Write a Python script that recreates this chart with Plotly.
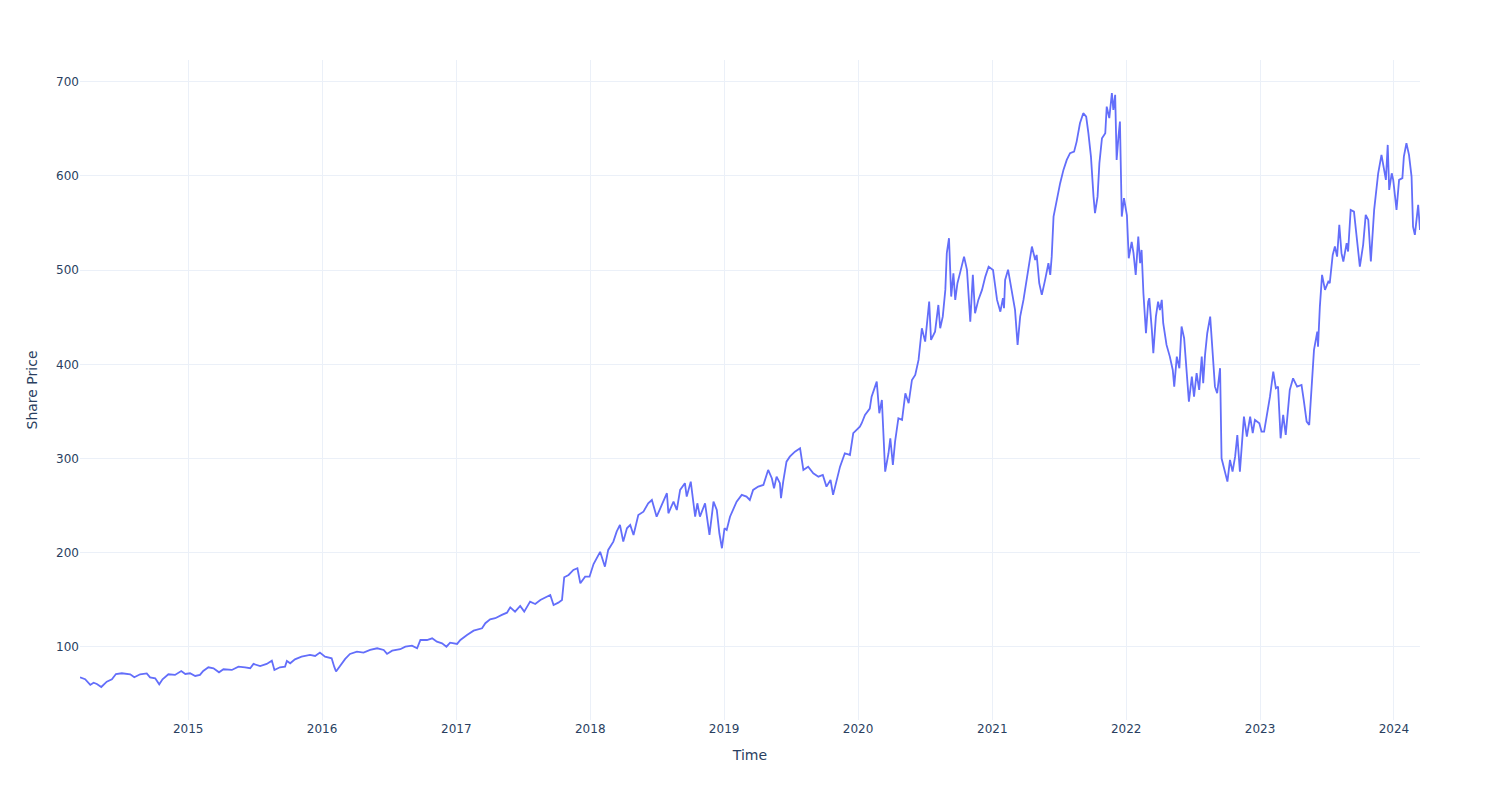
import plotly.graph_objects as go

# Share price, one pair of lists per calendar year
dates_2014 = ["2014-03-12", "2014-03-26", "2014-04-09", "2014-04-18", "2014-04-27", "2014-05-09",
              "2014-05-24", "2014-06-07", "2014-06-18", "2014-07-04", "2014-07-27", "2014-08-07",
              "2014-08-23", "2014-09-10", "2014-09-19", "2014-10-03", "2014-10-14", "2014-10-23",
              "2014-11-08", "2014-11-26", "2014-12-13", "2014-12-24"]
prices_2014 = [67.8, 65.7, 59.7, 62.0, 60.7, 57.5,
               63.2, 65.7, 71.3, 72.1, 71.0, 67.8,
               71.0, 72.0, 67.8, 66.8, 60.4, 65.7,
               71.0, 70.3, 74.5, 71.3]

dates_2015 = ["2015-01-06", "2015-01-20", "2015-02-02", "2015-02-11", "2015-02-25", "2015-03-11",
              "2015-03-26", "2015-04-07", "2015-04-30", "2015-05-18", "2015-06-05", "2015-06-19",
              "2015-06-28", "2015-07-16", "2015-08-03", "2015-08-17", "2015-08-24", "2015-09-08",
              "2015-09-22", "2015-09-27", "2015-10-06", "2015-10-19", "2015-11-06", "2015-11-29",
              "2015-12-13", "2015-12-26"]
prices_2015 = [72.1, 69.2, 70.3, 74.5, 78.4, 77.4,
               73.1, 76.3, 75.6, 79.1, 78.4, 77.4,
               82.0, 79.8, 82.0, 85.5, 75.6, 78.4,
               79.1, 85.1, 82.7, 86.9, 89.7, 91.5,
               90.4, 94.0]

dates_2016 = ["2016-01-09", "2016-01-27", "2016-02-03", "2016-02-08", "2016-03-04", "2016-03-17",
              "2016-04-05", "2016-04-23", "2016-05-11", "2016-05-30", "2016-06-17", "2016-06-26",
              "2016-07-10", "2016-08-01", "2016-08-15", "2016-09-02", "2016-09-16", "2016-09-25",
              "2016-10-13", "2016-10-27", "2016-11-09", "2016-11-23", "2016-12-05", "2016-12-15"]
prices_2016 = [89.7, 88.0, 79.1, 74.0, 87.3, 92.6,
               95.0, 94.0, 96.8, 98.6, 96.8, 92.6,
               96.1, 97.6, 100.3, 101.4, 98.6, 107.4,
               107.4, 109.2, 105.6, 103.9, 100.3, 104.6]

dates_2017 = ["2017-01-03", "2017-01-12", "2017-01-30", "2017-02-17", "2017-03-12", "2017-03-21",
              "2017-04-03", "2017-04-17", "2017-05-05", "2017-05-19", "2017-05-28", "2017-06-10",
              "2017-06-24", "2017-07-05", "2017-07-21", "2017-08-04", "2017-08-18", "2017-09-05",
              "2017-09-14", "2017-09-23", "2017-10-06", "2017-10-16", "2017-10-22", "2017-11-03",
              "2017-11-16", "2017-11-27", "2017-12-05", "2017-12-18", "2017-12-30"]
prices_2017 = [103.2, 107.4, 112.7, 117.3, 119.8, 125.2,
               129.4, 130.5, 134.0, 136.4, 142.1, 137.5,
               143.5, 137.5, 148.1, 145.6, 149.9, 153.4,
               155.2, 144.6, 147.0, 149.9, 174.0, 176.4,
               181.7, 183.5, 167.6, 174.6, 174.6]

dates_2018 = ["2018-01-10", "2018-01-28", "2018-02-10", "2018-02-19", "2018-03-05", "2018-03-14",
              "2018-03-23", "2018-04-01", "2018-04-11", "2018-04-20", "2018-04-29", "2018-05-12",
              "2018-05-26", "2018-06-08", "2018-06-18", "2018-07-01", "2018-07-15", "2018-07-29",
              "2018-08-02", "2018-08-16", "2018-08-25", "2018-09-03", "2018-09-16", "2018-09-21",
              "2018-10-02", "2018-10-14", "2018-10-20", "2018-10-27", "2018-11-10", "2018-11-22",
              "2018-12-03", "2018-12-12", "2018-12-19", "2018-12-26"]
prices_2018 = [188.0, 201.0, 185.2, 203.0, 211.8, 222.4,
               229.5, 211.8, 226.0, 229.5, 218.9, 240.1,
               243.6, 252.5, 256.0, 238.3, 250.7, 263.2,
               241.9, 254.2, 245.4, 266.7, 273.8, 259.6,
               275.5, 238.3, 252.5, 238.3, 252.5, 218.9,
               254.2, 245.4, 220.7, 204.8]

dates_2019 = ["2019-01-02", "2019-01-08", "2019-01-17", "2019-01-26", "2019-02-04", "2019-02-18",
              "2019-03-03", "2019-03-12", "2019-03-21", "2019-04-04", "2019-04-18", "2019-05-01",
              "2019-05-11", "2019-05-17", "2019-05-24", "2019-06-02", "2019-06-05", "2019-06-11",
              "2019-06-20", "2019-06-29", "2019-07-13", "2019-07-27", "2019-08-05", "2019-08-18",
              "2019-09-01", "2019-09-15", "2019-09-27", "2019-10-07", "2019-10-18", "2019-10-25",
              "2019-11-04", "2019-11-13", "2019-11-26", "2019-12-10", "2019-12-19"]
prices_2019 = [226.0, 224.2, 238.3, 245.4, 254.2, 261.4,
               259.6, 256.0, 266.7, 270.2, 272.0, 287.9,
               279.1, 268.5, 280.8, 273.8, 257.9, 275.5,
               296.7, 302.0, 307.3, 310.9, 287.9, 291.4,
               284.4, 280.8, 282.6, 270.2, 277.3, 261.4,
               277.3, 291.4, 305.6, 303.8, 326.9]

dates_2020 = ["2020-01-01", "2020-01-06", "2020-01-11", "2020-01-20", "2020-02-02", "2020-02-07",
              "2020-02-21", "2020-02-28", "2020-03-06", "2020-03-11", "2020-03-15", "2020-03-24",
              "2020-03-29", "2020-04-05", "2020-04-11", "2020-04-20", "2020-04-30", "2020-05-09",
              "2020-05-18", "2020-05-27", "2020-06-05", "2020-06-14", "2020-06-23", "2020-07-02",
              "2020-07-13", "2020-07-18", "2020-07-29", "2020-08-07", "2020-08-12", "2020-08-19",
              "2020-08-26", "2020-08-30", "2020-09-05", "2020-09-11", "2020-09-17", "2020-09-22",
              "2020-09-28", "2020-10-06", "2020-10-16", "2020-10-24", "2020-11-02", "2020-11-09",
              "2020-11-15", "2020-11-24", "2020-12-04", "2020-12-13", "2020-12-22"]
prices_2020 = [332.2, 333.9, 337.5, 346.3, 353.0, 365.7,
               381.6, 348.1, 362.2, 326.9, 286.1, 305.6,
               321.5, 293.2, 317.9, 342.8, 341.0, 369.3,
               358.7, 383.4, 388.7, 404.7, 438.3, 424.1,
               466.6, 425.9, 434.7, 463.0, 438.3, 450.6,
               479.0, 518.0, 533.9, 471.9, 496.7, 468.4,
               486.1, 498.4, 514.3, 500.2, 445.3, 494.9,
               454.2, 468.4, 479.0, 493.1, 503.7]

dates_2021 = ["2021-01-03", "2021-01-14", "2021-01-23", "2021-01-30", "2021-02-02", "2021-02-05",
              "2021-02-13", "2021-02-26", "2021-03-04", "2021-03-11", "2021-03-18", "2021-03-27",
              "2021-04-05", "2021-04-19", "2021-04-28", "2021-05-02", "2021-05-09", "2021-05-16",
              "2021-05-25", "2021-06-03", "2021-06-08", "2021-06-12", "2021-06-17", "2021-06-26",
              "2021-07-05", "2021-07-14", "2021-07-23", "2021-08-01", "2021-08-12", "2021-08-19",
              "2021-08-28", "2021-09-06", "2021-09-14", "2021-09-20", "2021-09-27", "2021-10-04",
              "2021-10-08", "2021-10-15", "2021-10-20", "2021-10-27", "2021-11-05", "2021-11-09",
              "2021-11-16", "2021-11-23", "2021-11-27", "2021-12-02", "2021-12-06", "2021-12-11",
              "2021-12-15", "2021-12-20", "2021-12-26"]
prices_2021 = [500.2, 468.4, 455.9, 470.2, 459.6, 489.6,
               500.5, 471.9, 457.7, 420.6, 450.6, 468.4,
               489.6, 525.0, 510.8, 516.1, 486.1, 473.7,
               489.6, 507.3, 494.9, 514.3, 556.8, 576.3,
               592.3, 606.4, 617.0, 624.1, 625.8, 636.4,
               655.9, 666.6, 662.9, 645.3, 620.5, 578.0,
               560.4, 578.0, 613.5, 640.0, 645.3, 673.6,
               661.3, 688.0, 670.1, 686.0, 617.0, 641.7,
               657.6, 556.8, 576.3]

dates_2022 = ["2022-01-03", "2022-01-08", "2022-01-16", "2022-01-21", "2022-01-27", "2022-02-03",
              "2022-02-08", "2022-02-12", "2022-02-17", "2022-02-24", "2022-03-02", "2022-03-05",
              "2022-03-12", "2022-03-16", "2022-03-23", "2022-03-29", "2022-04-03", "2022-04-08",
              "2022-04-12", "2022-04-21", "2022-04-30", "2022-05-08", "2022-05-12", "2022-05-19",
              "2022-05-26", "2022-06-01", "2022-06-08", "2022-06-15", "2022-06-21", "2022-06-29",
              "2022-07-05", "2022-07-12", "2022-07-19", "2022-07-26", "2022-07-30", "2022-08-04",
              "2022-08-10", "2022-08-18", "2022-08-25", "2022-08-31", "2022-09-06", "2022-09-14",
              "2022-09-18", "2022-09-27", "2022-10-04", "2022-10-11", "2022-10-18", "2022-10-25",
              "2022-10-31", "2022-11-07", "2022-11-15", "2022-11-18", "2022-11-26", "2022-12-05",
              "2022-12-12", "2022-12-18", "2022-12-30"]
prices_2022 = [558.0, 512.6, 530.0, 518.0, 494.9, 535.6,
               507.3, 521.4, 475.5, 433.0, 466.6, 470.2,
               436.5, 411.8, 450.6, 466.6, 457.7, 468.4,
               443.6, 420.6, 408.2, 394.0, 376.3, 408.2,
               395.9, 440.1, 427.7, 387.0, 360.4, 387.0,
               365.7, 390.6, 372.8, 408.2, 379.9, 410.0,
               433.0, 450.6, 411.8, 376.3, 369.3, 395.9,
               300.3, 284.4, 275.5, 298.5, 286.1, 302.0,
               325.0, 286.1, 333.9, 344.5, 323.2, 344.5,
               326.9, 341.0, 337.5]

dates_2023 = ["2023-01-05", "2023-01-12", "2023-01-19", "2023-01-28", "2023-02-06", "2023-02-13",
              "2023-02-19", "2023-02-26", "2023-03-05", "2023-03-12", "2023-03-23", "2023-04-01",
              "2023-04-12", "2023-04-24", "2023-04-30", "2023-05-08", "2023-05-15", "2023-05-21",
              "2023-05-28", "2023-06-06", "2023-06-08", "2023-06-13", "2023-06-19", "2023-06-27",
              "2023-07-06", "2023-07-10", "2023-07-18", "2023-07-24", "2023-07-30", "2023-08-05",
              "2023-08-11", "2023-08-16", "2023-08-25", "2023-08-29", "2023-09-05", "2023-09-14",
              "2023-09-21", "2023-09-30", "2023-10-09", "2023-10-16", "2023-10-23", "2023-10-30",
              "2023-11-08", "2023-11-13", "2023-11-19", "2023-11-28", "2023-12-05", "2023-12-10",
              "2023-12-15", "2023-12-19", "2023-12-26", "2023-12-30"]
prices_2023 = [328.6, 328.6, 343.6, 365.7, 392.2, 374.6,
               376.3, 321.5, 346.3, 325.0, 372.8, 385.2,
               376.3, 378.1, 362.2, 339.2, 335.7, 369.3,
               415.3, 434.7, 418.8, 461.3, 494.9, 479.0,
               487.8, 486.1, 516.1, 525.0, 514.3, 548.0,
               518.0, 509.1, 528.6, 519.7, 563.9, 562.1,
               539.2, 503.7, 526.8, 558.6, 553.3, 509.1,
               563.9, 585.1, 602.8, 622.3, 606.4, 595.8,
               632.9, 585.1, 602.8, 595.8]

dates_2024 = ["2024-01-08", "2024-01-15", "2024-01-24", "2024-01-28", "2024-02-04", "2024-02-11",
              "2024-02-18", "2024-02-22", "2024-02-27", "2024-03-03", "2024-03-07", "2024-03-12"]
prices_2024 = [563.9, 595.8, 597.6, 620.5, 634.7, 622.3,
               599.3, 546.2, 537.4, 556.8, 569.2, 542.7]

dates = (dates_2014 + dates_2015 + dates_2016 + dates_2017 + dates_2018 + dates_2019
         + dates_2020 + dates_2021 + dates_2022 + dates_2023 + dates_2024)
prices = (prices_2014 + prices_2015 + prices_2016 + prices_2017 + prices_2018 + prices_2019
          + prices_2020 + prices_2021 + prices_2022 + prices_2023 + prices_2024)

fig = go.Figure()
fig.add_trace(
    go.Scatter(x=dates, y=prices, mode="lines", line=dict(color="#636efa", width=1.8), showlegend=False)
)

# the page body adds an 8px margin, so the figure is sized and offset to land on the same plot box
fig.update_layout(
    template="plotly_white",
    font=dict(family="DejaVu Sans"),
    width=1492,
    height=792,
    margin=dict(t=52, l=72, r=80, b=80),
    xaxis=dict(title_text="Time", dtick="M12", tick0="2015-01-01", tickformat="%Y"),
    yaxis=dict(title_text="Share Price"),
)

fig.write_html("out.html")
